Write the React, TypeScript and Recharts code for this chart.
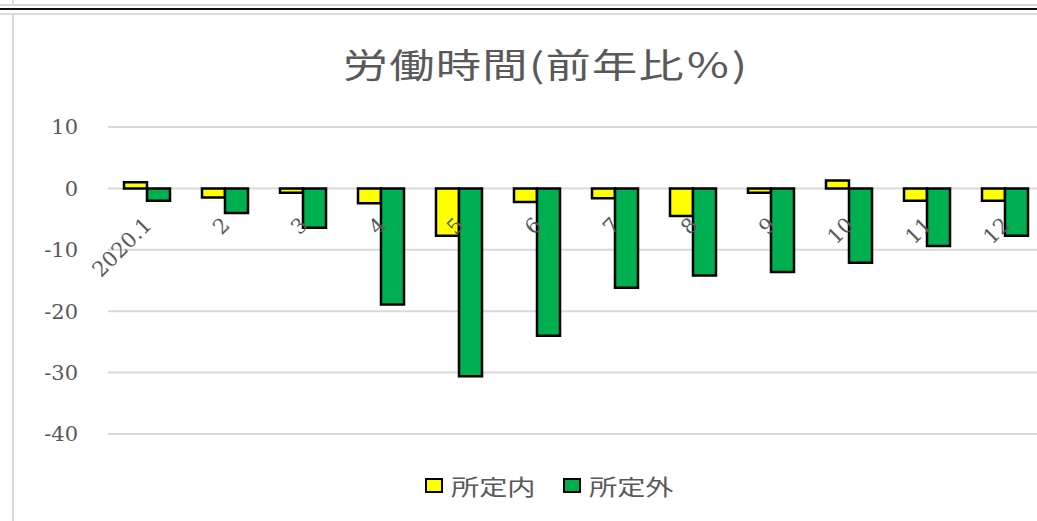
import React from 'react';
import { BarChart, Bar, XAxis, YAxis, CartesianGrid, Legend, LabelList } from 'recharts';

const categories = ['2020.1', '2', '3', '4', '5', '6', '7', '8', '9', '10', '11', '12'];
const shoteinai = [1.0, -1.5, -0.7, -2.4, -7.7, -2.2, -1.6, -4.5, -0.7, 1.3, -2.0, -2.0];
const shoteigai = [-2.0, -4.0, -6.4, -18.9, -30.6, -24.0, -16.2, -14.2, -13.6, -12.1, -9.4, -7.7];
const yTicks = [10, 0, -10, -20, -30, -40];
const seriesNames = ['所定内', '所定外'];
const seriesColors = ['#FFFF00', '#00B050'];
const title = '労働時間(前年比％)';

const data = categories.map((c, i) => ({ cat: c, a: shoteinai[i], b: shoteigai[i] }));

const GRAY = '#595959';
const SERIF = '"DejaVu Serif", "Liberation Serif", serif';
const CJK = '"Noto Sans CJK JP", "Noto Sans CJK SC", sans-serif';

const CatLabel = (props: any) => {
  const { x, y, width, height, value, index } = props;
  const left = Math.min(x, x + width);
  const top = Math.min(y, y + height);
  const bottom = Math.max(y, y + height);
  const v = shoteigai[index];
  const zero = (typeof v === 'number' && v > 0) ? bottom : top;
  const px = left + 6;
  const py = zero + 38;
  return (
    <text
      x={px}
      y={py}
      transform={`rotate(-45 ${px} ${py})`}
      textAnchor="end"
      fontFamily={SERIF}
      fontSize={21}
      fill={GRAY}
    >
      {value}
    </text>
  );
};

const LegendContent = () => (
  <div style={{ display: 'flex', justifyContent: 'center', alignItems: 'center', height: 30, paddingLeft: 50 }}>
    {seriesNames.map((n, i) => (
      <div key={n} style={{ display: 'flex', alignItems: 'center', marginRight: i === 0 ? 26 : 0 }}>
        <div style={{ width: 14, height: 11, background: seriesColors[i], border: '2.5px solid #000', marginRight: 8 }} />
        <span style={{ display: 'inline-block', width: 86, whiteSpace: 'nowrap' }}>
          <span style={{ display: 'inline-block', fontFamily: CJK, fontSize: 22, color: GRAY, transform: 'scaleX(1.28)', transformOrigin: 'left center' }}>{n}</span>
        </span>
      </div>
    ))}
  </div>
);

export default function App() {
  return (
    <div style={{ position: 'absolute', left: 0, top: 0, width: 1037, height: 521, overflow: 'hidden', background: '#fff' }}>
      <div style={{ position: 'absolute', left: 0, top: 4, width: 1037, height: 2, background: '#d9d9d9' }} />
      <div style={{ position: 'absolute', left: 12, top: 0, width: 2, height: 6, background: '#d9d9d9' }} />
      <div style={{ position: 'absolute', left: 0, top: 8, width: 1037, height: 2, background: '#111' }} />
      <div style={{ position: 'absolute', left: 0, top: 13, width: 1037, height: 2, background: '#d9d9d9' }} />
      <div style={{ position: 'absolute', left: 12, top: 13, width: 2, height: 508, background: '#d9d9d9' }} />
      <div style={{ position: 'absolute', left: 0, top: 42, width: 1090, textAlign: 'center', lineHeight: '44px' }}>
        <span style={{ display: 'inline-block', fontFamily: CJK, fontSize: 34, color: GRAY, letterSpacing: 1, transform: 'scaleX(1.33)', transformOrigin: 'center' }}>
          {title}
        </span>
      </div>
      <div style={{ position: 'absolute', left: 0, top: 0 }}>
        <BarChart
          width={1050}
          height={521}
          data={data}
          margin={{ top: 127, right: 6, bottom: 21, left: 0 }}
          barCategoryGap={16}
          barGap={0}
        >
          <CartesianGrid vertical={false} stroke="#d9d9d9" strokeWidth={2} />
          <XAxis dataKey="cat" height={36} tick={false} axisLine={false} tickLine={false} />
          <YAxis
            width={108}
            domain={[-40, 10]}
            ticks={yTicks}
            interval={0}
            axisLine={false}
            tickLine={false}
            tickSize={0}
            tickMargin={30}
            tick={{ fontFamily: SERIF, fontSize: 21, fill: GRAY }}
          />
          <Legend verticalAlign="bottom" height={30} content={<LegendContent />} wrapperStyle={{ left: 0, width: 1050 }} />
          <Bar dataKey="a" name={seriesNames[0]} fill={seriesColors[0]} stroke="#000" strokeWidth={2.5} isAnimationActive={false} />
          <Bar dataKey="b" name={seriesNames[1]} fill={seriesColors[1]} stroke="#000" strokeWidth={2.5} isAnimationActive={false}>
            <LabelList dataKey="cat" content={<CatLabel />} />
          </Bar>
        </BarChart>
      </div>
    </div>
  );
}
